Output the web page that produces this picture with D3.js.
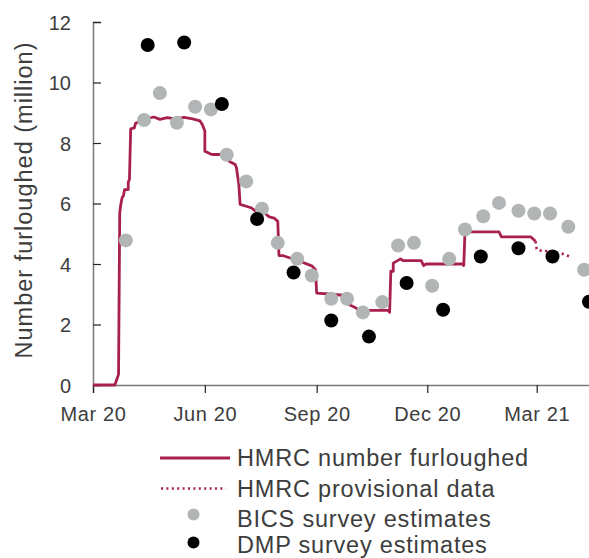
<!DOCTYPE html>
<html>
<head>
<meta charset="utf-8">
<script src="https://cdn.jsdelivr.net/npm/d3@7"></script>
<style>
  html, body { margin: 0; padding: 0; background: #fff; }
  svg { display: block; font-family: "Liberation Sans", Arial, Helvetica, sans-serif; }
</style>
</head>
<body>
<svg id="chart" width="589" height="558"></svg>
<script>
// ---- Data ----
const hmrcDates = ["2020-03-01","2020-03-19","2020-03-22","2020-03-23","2020-03-24","2020-03-25","2020-03-26","2020-03-27","2020-03-30","2020-03-30","2020-03-31",
  "2020-04-01","2020-04-04","2020-04-05","2020-04-09","2020-04-14","2020-04-20","2020-04-25","2020-05-01","2020-05-08","2020-05-15","2020-05-22","2020-05-28","2020-05-30",
  "2020-06-01","2020-06-01","2020-06-05","2020-06-07","2020-06-15","2020-06-19","2020-06-21","2020-06-26","2020-06-27","2020-06-28","2020-06-29","2020-06-30",
  "2020-07-05","2020-07-09","2020-07-13","2020-07-20","2020-07-24","2020-07-28","2020-07-31","2020-08-01","2020-08-04","2020-08-18","2020-08-28","2020-08-31",
  "2020-09-01","2020-09-14","2020-09-26","2020-09-28","2020-10-03","2020-10-06","2020-10-30","2020-10-31","2020-11-01","2020-11-03","2020-11-03","2020-11-09",
  "2020-11-11","2020-11-26","2020-11-28","2020-11-30","2020-12-30","2020-12-31","2021-01-01","2021-01-29","2021-01-31","2021-02-24","2021-02-28"];
const hmrcValues = [0,0,0.35,5.7,6.0,6.2,6.25,6.46,6.46,6.7,6.8,
  8.47,8.5,8.65,8.72,8.8,8.86,8.78,8.84,8.8,8.85,8.8,8.73,8.6,
  8.4,7.73,7.65,7.62,7.62,7.51,7.40,7.29,7.18,6.9,6.63,5.97,
  5.91,5.86,5.74,5.69,5.56,5.52,5.41,4.28,4.28,4.09,3.94,3.81,
  3.04,3.0,2.95,2.65,2.55,2.47,2.47,2.4,3.76,3.76,4.03,4.17,
  4.11,4.11,3.95,4.0,4.0,3.95,5.06,5.06,4.9,4.9,4.75];

const provDates = ["2021-02-28","2021-03-01","2021-03-02","2021-03-12","2021-03-22","2021-03-28"];
const provValues = [4.75,4.5,4.45,4.42,4.34,4.25];

const bicsDates = ["2020-03-28","2020-04-12","2020-04-25","2020-05-09","2020-05-24","2020-06-06","2020-06-19","2020-07-05","2020-07-18","2020-07-31",
  "2020-08-16","2020-08-28","2020-09-13","2020-09-26","2020-10-09","2020-10-25","2020-11-07","2020-11-20","2020-12-05","2020-12-19",
  "2021-01-01","2021-01-16","2021-01-29","2021-02-14","2021-02-27","2021-03-12","2021-03-27","2021-04-09"];
const bicsValues = [4.78,8.76,9.65,8.67,9.2,9.11,7.61,6.73,5.83,4.70,
  4.17,3.62,2.85,2.85,2.40,2.74,4.61,4.70,3.28,4.17,
  5.14,5.58,6.02,5.76,5.67,5.67,5.23,3.81];

const dmpDates = ["2020-04-15","2020-05-15","2020-06-15","2020-07-14","2020-08-13","2020-09-13","2020-10-14","2020-11-14","2020-12-14","2021-01-14","2021-02-14","2021-03-14","2021-04-13"];
const dmpValues = [11.24,11.32,9.29,5.49,3.72,2.13,1.60,3.37,2.49,4.25,4.52,4.25,2.75];

const xTickDates = ["2020-03-01","2020-06-01","2020-09-01","2020-12-01","2021-03-01"];
const xTickLabels = ["Mar 20","Jun 20","Sep 20","Dec 20","Mar 21"];
const yTicks = [0,2,4,6,8,10,12];

const legendLabels = ["HMRC number furloughed","HMRC provisional data","BICS survey estimates","DMP survey estimates"];

// ---- Styles ----
const lineColor = "#a8204e";
const grayDot = "#b2b5b6";
const textColor = "#3d3d3d";
const axisColor = "#7a7a7a";

const parse = d3.utcParse("%Y-%m-%d");
const svg = d3.select("#chart");

const x = d3.scaleUtc()
  .domain([parse("2020-03-01"), parse("2021-04-15")])
  .range([93, 591.4]);
const y = d3.scaleLinear().domain([0, 12]).range([385, 22]);

// Axes
const yAxis = d3.axisLeft(y).tickValues(yTicks).tickSize(-8).tickPadding(30).tickFormat(d3.format("d"));
const gy = svg.append("g").attr("transform", "translate(93,0)").call(yAxis);
gy.select(".domain").attr("stroke", axisColor).attr("stroke-width", 1.5);
gy.selectAll(".tick line").attr("stroke", "#222").attr("stroke-width", 1.2);
gy.selectAll(".tick text").attr("fill", textColor).style("font-size", "20px").attr("dy", "0.36em").attr("x", -22);

const xAxis = d3.axisBottom(x).tickValues(xTickDates.map(parse)).tickSize(8).tickPadding(14)
  .tickFormat((d, i) => xTickLabels[i]);
const gx = svg.append("g").attr("transform", "translate(0,385)").call(xAxis);
gx.select(".domain").attr("stroke", axisColor).attr("stroke-width", 1.5);
gx.selectAll(".tick line").attr("stroke", "#222").attr("stroke-width", 1.2);
gx.selectAll(".tick text").attr("fill", textColor).style("font-size", "20px").style("letter-spacing", "0.6px");

// Y title
svg.append("text")
  .attr("transform", "translate(32,200) rotate(-90)")
  .attr("text-anchor", "middle")
  .attr("fill", textColor)
  .style("font-size", "23.5px")
  .style("letter-spacing", "1px")
  .text("Number furloughed (million)");

// Lines
const hmrc = hmrcDates.map((d, i) => ({ date: parse(d), value: hmrcValues[i] }));
const prov = provDates.map((d, i) => ({ date: parse(d), value: provValues[i] }));
const line = d3.line().x(d => x(d.date)).y(d => y(d.value));

svg.append("path").datum(hmrc).attr("d", line)
  .attr("fill", "none").attr("stroke", lineColor).attr("stroke-width", 2.8).attr("stroke-linejoin", "round");
svg.append("path").datum(prov).attr("d", line)
  .attr("fill", "none").attr("stroke", lineColor).attr("stroke-width", 2.6).attr("stroke-dasharray", "2.2,3.4");

// Dots
svg.append("g").selectAll("circle")
  .data(bicsDates.map((d, i) => ({ date: parse(d), value: bicsValues[i] })))
  .join("circle")
  .attr("cx", d => x(d.date)).attr("cy", d => y(d.value)).attr("r", 7).attr("fill", grayDot);
svg.append("g").selectAll("circle")
  .data(dmpDates.map((d, i) => ({ date: parse(d), value: dmpValues[i] })))
  .join("circle")
  .attr("cx", d => x(d.date)).attr("cy", d => y(d.value)).attr("r", 7).attr("fill", "#000");

// Legend
const leg = svg.append("g");
const rowY = [458, 488.5, 514.5, 542.5];
const textBase = [465.5, 496.5, 526.5, 553];
leg.append("line").attr("x1", 160).attr("x2", 230).attr("y1", rowY[0]).attr("y2", rowY[0])
  .attr("stroke", lineColor).attr("stroke-width", 2.8);
leg.append("line").attr("x1", 161).attr("x2", 226).attr("y1", rowY[1]).attr("y2", rowY[1])
  .attr("stroke", lineColor).attr("stroke-width", 2.4).attr("stroke-dasharray", "2,3.4");
leg.append("circle").attr("cx", 193.5).attr("cy", rowY[2]).attr("r", 6).attr("fill", grayDot);
leg.append("circle").attr("cx", 193.5).attr("cy", rowY[3]).attr("r", 6).attr("fill", "#000");
leg.selectAll("text").data(legendLabels).join("text")
  .attr("x", 237).attr("y", (d, i) => textBase[i])
  .attr("fill", textColor)
  .style("font-size", "23.5px")
  .style("letter-spacing", "0.8px")
  .text(d => d);
</script>
</body>
</html>
